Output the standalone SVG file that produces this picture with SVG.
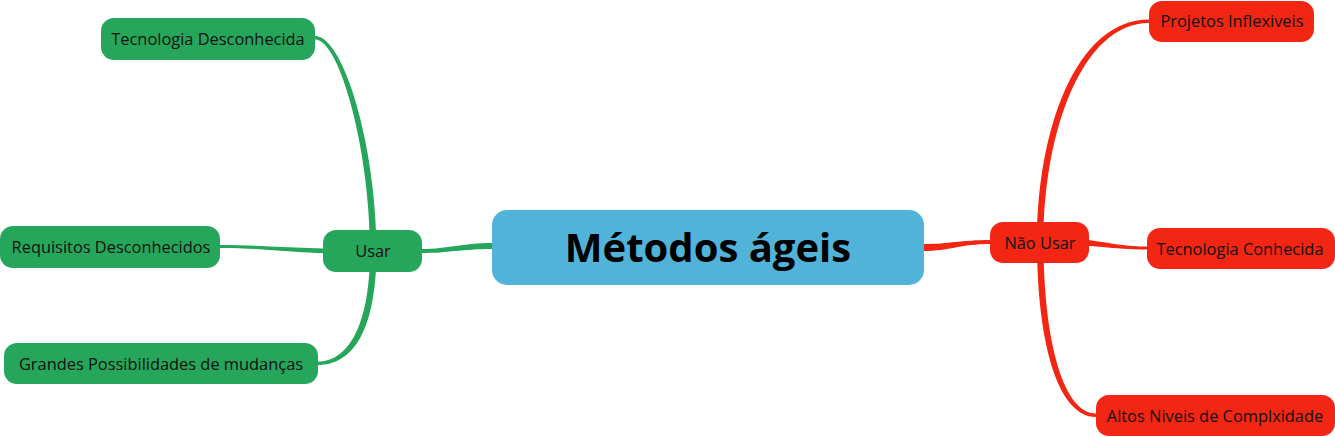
<svg xmlns="http://www.w3.org/2000/svg" width="1335" height="437" viewBox="0 0 1335 437">
<style>
.g{fill:#26a65b}
.r{fill:#f22613}
.c{fill:#52b3d9}
.t{font-family:"Open Sans","Noto Sans",sans-serif;font-size:16.4px;fill:#111;text-anchor:middle}
.tc{font-family:"Open Sans","Noto Sans",sans-serif;font-size:40px;font-weight:bold;fill:#000;text-anchor:middle}
</style>
<rect width="1335" height="437" fill="#fff"/>
<g id="connectors">
<path class="g" d="M421,249 C450,249 460,243 493,243 L493,249 C460,249 450,253 421,253 Z"/>
<path class="r" d="M923,244 C950,244 960,240 991,240 L991,244 C960,244 950,251 923,251 Z"/>
<path class="g" d="M370,250 C370,152 340,39.5 315,39.5 L315,36 C344,36 376.5,148 376.5,250 Z"/>
<path class="g" d="M370,250 C370,330 346,361.5 318,361.5 L318,365 C352,365 376.5,332 376.5,250 Z"/>
<path class="g" d="M220,245 C270,245 290,249 373,249 L373,254 C290,254 270,248 220,248 Z"/>
<path class="r" d="M1037,242 C1037,130 1076,19.5 1149,19.5 L1149,23 C1083,23 1043.5,130 1043.5,242 Z"/>
<path class="r" d="M1037,242 C1037,340 1057,417 1096,417 L1096,413.5 C1063,413.5 1043.5,340 1043.5,242 Z"/>
<path class="r" d="M1040,237.5 C1100,237.5 1110,246.5 1147,246.5 L1147,249.5 C1110,249.5 1100,244.5 1040,244.5 Z"/>
</g>
<g id="central">
<rect class="c" x="492" y="210" width="432" height="75" rx="15"/>
<text class="tc" x="708" y="262">Métodos ágeis</text>
</g>
<g id="usar">
<rect class="g" x="323" y="230" width="99" height="42" rx="13"/>
<text class="t" x="373" y="257">Usar</text>
</g>
<g id="tecnologia-desconhecida">
<rect class="g" x="101" y="18" width="214" height="42" rx="13"/>
<text class="t" x="208" y="45">Tecnologia Desconhecida</text>
</g>
<g id="requisitos-desconhecidos">
<rect class="g" x="0" y="226" width="220" height="42" rx="13"/>
<text class="t" x="111" y="253">Requisitos Desconhecidos</text>
</g>
<g id="grandes-possibilidades">
<rect class="g" x="4" y="343" width="314" height="41" rx="13"/>
<text class="t" x="161" y="370">Grandes Possibilidades de mudanças</text>
</g>
<g id="nao-usar">
<rect class="r" x="990" y="222" width="99" height="41" rx="13"/>
<text class="t" x="1040" y="249">Não Usar</text>
</g>
<g id="projetos-inflexiveis">
<rect class="r" x="1149" y="1" width="165" height="41" rx="13"/>
<text class="t" x="1232" y="27">Projetos Inflexiveis</text>
</g>
<g id="tecnologia-conhecida">
<rect class="r" x="1147" y="228" width="188" height="41" rx="13"/>
<text class="t" x="1240" y="255">Tecnologia Conhecida</text>
</g>
<g id="altos-niveis">
<rect class="r" x="1096" y="395" width="239" height="41" rx="13"/>
<text class="t" x="1215" y="422">Altos Niveis de Complxidade</text>
</g>
</svg>
